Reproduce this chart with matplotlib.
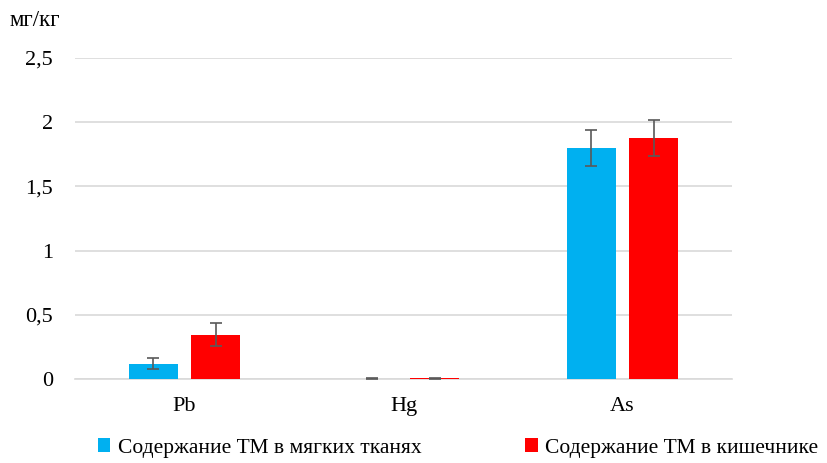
import matplotlib.pyplot as plt
import numpy as np

plt.rcParams['font.family'] = ['Liberation Serif', 'DejaVu Serif']

elements = ["Pb", "Hg", "As"]
soft_tissue = [0.12, 0.003, 1.80]
soft_err = [0.04, 0.002, 0.143]
intestine = [0.345, 0.004, 1.875]
intestine_err = [0.088, 0.003, 0.14]
yticks = [0, 0.5, 1, 1.5, 2, 2.5]
yticklabels = ["0", "0,5", "1", "1,5", "2", "2,5"]

blue = "#00b0f0"
red = "#ff0000"
errc = "#595959"

fig = plt.figure(figsize=(8.28, 4.63), dpi=100)
ax = fig.add_axes([75/828, 1-379/463, (732-75)/828, (379-58)/463])

x = np.arange(len(elements))
w = 0.224
off = 0.142
ekw = dict(ecolor=errc, elinewidth=1.2, capsize=4.5, capthick=1.2)
ax.bar(x - off, soft_tissue, w, color=blue, yerr=soft_err, error_kw=ekw,
       label="Содержание ТМ в мягких тканях", zorder=3)
ax.bar(x + off, intestine, w, color=red, yerr=intestine_err, error_kw=ekw,
       label="Содержание ТМ в кишечнике", zorder=3)

ax.set_xlim(-0.5, 2.5)
ax.set_ylim(0, 2.5)
ax.set_xticks(x)
ax.set_xticklabels(elements, fontsize=16)
ax.set_yticks(yticks)
ax.set_yticklabels(yticklabels, fontsize=16)
ax.tick_params(length=0)
ax.tick_params(axis='x', pad=13)
ax.tick_params(axis='y', pad=16)
ax.yaxis.grid(True, color="#d9d9d9", linewidth=1.2, zorder=0)
ax.set_axisbelow(True)
for s in ["top", "right", "left"]:
    ax.spines[s].set_visible(False)
ax.spines["bottom"].set_color("#d9d9d9")
ax.spines["bottom"].set_linewidth(1.2)
ax.spines["bottom"].set_zorder(1)

fig.text(10/828, 1-20/463, "мг/кг", fontsize=16.5, va="center", ha="left")

ax.legend(loc="center", bbox_to_anchor=(458/828, 1-448/463),
          bbox_transform=fig.transFigure, ncol=2, frameon=False,
          fontsize=15.5, handlelength=0.6, handleheight=0.6,
          handletextpad=0.35, columnspacing=4.8)

fig.savefig("out.png", dpi=100)
